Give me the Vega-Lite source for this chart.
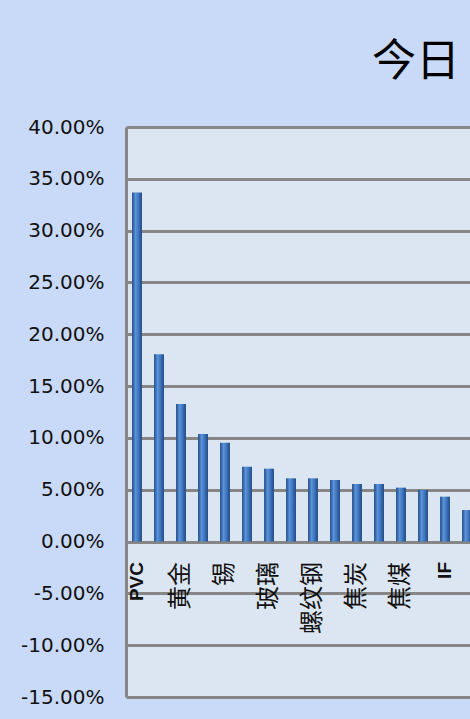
{
  "$schema": "https://vega.github.io/schema/vega-lite/v6.json",
  "width": 344,
  "height": 570,
  "autosize": {"type": "none"},
  "padding": {"left": 126, "top": 127, "right": 0, "bottom": 22},
  "background": "#c9daf9",
  "title": {
    "text": "今日",
    "anchor": "start",
    "frame": "group",
    "dx": 246,
    "offset": 32,
    "fontSize": 44,
    "font": "Noto Sans CJK SC",
    "fontWeight": "normal",
    "color": "#000000"
  },
  "data": {
    "values": [
      {"name": "PVC", "value": 0.3367},
      {"name": "橡胶", "value": 0.1807},
      {"name": "黄金", "value": 0.1327},
      {"name": "白银", "value": 0.1038},
      {"name": "锡", "value": 0.0954},
      {"name": "铜", "value": 0.0722},
      {"name": "玻璃", "value": 0.0703},
      {"name": "甲醇", "value": 0.0610},
      {"name": "螺纹钢", "value": 0.0610},
      {"name": "铁矿石", "value": 0.0594},
      {"name": "焦炭", "value": 0.0555},
      {"name": "豆粕", "value": 0.0555},
      {"name": "焦煤", "value": 0.0520},
      {"name": "棉花", "value": 0.0497},
      {"name": "IF", "value": 0.0433},
      {"name": "白糖", "value": 0.0304}
    ]
  },
  "mark": {
    "type": "bar",
    "clip": true,
    "color": {
      "gradient": "linear",
      "x1": 0, "x2": 1, "y1": 0, "y2": 0,
      "stops": [
        {"offset": 0, "color": "#1f4c88"},
        {"offset": 0.35, "color": "#5b93da"},
        {"offset": 0.7, "color": "#3a70b8"},
        {"offset": 1, "color": "#1d4780"}
      ]
    }
  },
  "encoding": {
    "x": {
      "field": "name",
      "type": "nominal",
      "sort": null,
      "scale": {"range": [0, 352], "paddingInner": 0.55, "paddingOuter": 0.275},
      "axis": {
        "title": null,
        "orient": "bottom",
        "values": ["PVC", "黄金", "锡", "玻璃", "螺纹钢", "焦炭", "焦煤", "IF"],
        "offset": -155.5,
        "domain": false,
        "ticks": false,
        "grid": false,
        "labelPadding": 20,
        "labelOverlap": false,
        "labelLimit": 0,
        "labelColor": "#111111",
        "labelAngle": 270,
        "labelAlign": "right",
        "labelBaseline": "middle",
        "labelFont": {"condition": {"test": "datum.value === 'PVC' || datum.value === 'IF'", "value": "Liberation Sans"}, "value": "Noto Sans CJK SC"},
        "labelFontSize": {"condition": {"test": "datum.value === 'PVC' || datum.value === 'IF'", "value": 19}, "value": 24},
        "labelFontWeight": {"condition": {"test": "datum.value === 'PVC' || datum.value === 'IF'", "value": "bold"}, "value": "normal"}
      }
    },
    "y": {
      "field": "value",
      "type": "quantitative",
      "scale": {"domain": [-0.15, 0.4], "nice": false, "zero": false},
      "axis": {
        "title": null,
        "values": [-0.15, -0.1, -0.05, 0, 0.05, 0.1, 0.15, 0.2, 0.25, 0.3, 0.35, 0.4],
        "format": ".2%",
        "labelExpr": "replace(datum.label, '−', '-')",
        "grid": true,
        "gridColor": "#868686",
        "gridWidth": 3,
        "domainColor": "#868686",
        "domainWidth": 3,
        "ticks": false,
        "labelPadding": 22,
        "labelFont": "DejaVu Sans",
        "labelFontSize": 20,
        "labelColor": "#111111",
        "labelOverlap": false
      }
    }
  },
  "config": {
    "view": {"fill": "#dce6f2", "stroke": null}
  }
}
